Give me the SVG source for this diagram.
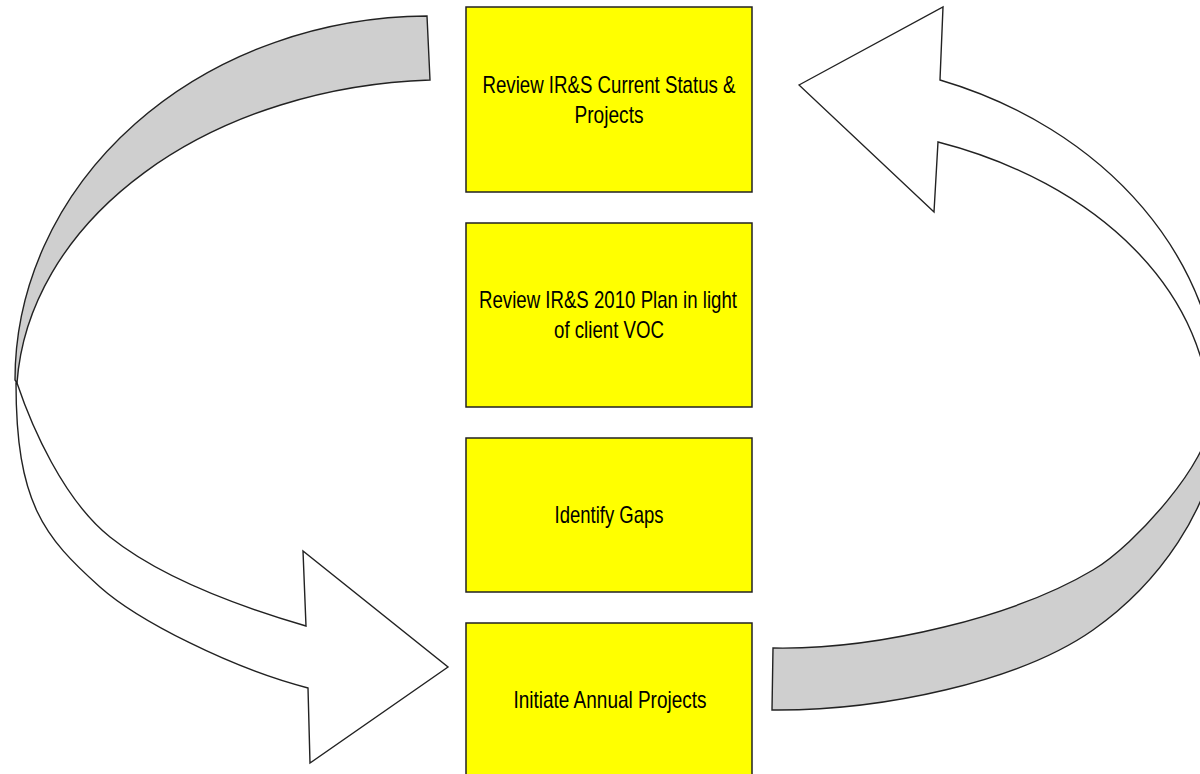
<svg xmlns="http://www.w3.org/2000/svg" width="1200" height="774" viewBox="0 0 1200 774">
<style>
.box{fill:#ffff00;stroke:#222;stroke-width:1.5}
.lbl{font-family:"Liberation Sans",Arial,sans-serif;font-size:24px;fill:#000;text-anchor:middle}
.back{fill:#cfcfcf;stroke:#222;stroke-width:1.4;stroke-linejoin:miter}
.front{fill:#ffffff;stroke:#222;stroke-width:1.4;stroke-linejoin:miter}
</style>
<rect x="0" y="0" width="1200" height="774" fill="#ffffff"/>
<g id="connectors">
  <g id="left-arrow">
    <path class="back" d="M427,16 A415,364 0 0 0 15,380 L17,383 A433,320 0 0 1 430,80 Z"/>
    <path class="front" d="M16,383 C16,503 44,537 100,587 C137.3,620.3 230.6,668 308,688 L310,763 L448,667 L303,551 L306,626 C238.8,606.4 160.8,577.6 110,537 C63.1,499.5 31.4,425.8 17,383 Z"/>
  </g>
  <g id="right-arrow">
    <path class="back" d="M1220,410 C1220,510 1150.3,589.8 1093,630 C1019.3,681.7 882,711 772,710 L773,648 C880,650 1015.7,616.1 1093,570 C1136,544.4 1210,460 1210,420 Z"/>
    <path class="front" d="M799,85 L943,7 L940,80 A420,350 0 0 1 1220,410 L1210,420 A410,295 0 0 0 938,142 L934,212 Z"/>
  </g>
</g>
<g id="node1">
  <rect class="box" x="466" y="7" width="286" height="185"/>
  <text class="lbl" x="609" y="93" textLength="253" lengthAdjust="spacingAndGlyphs">Review IR&amp;S Current Status &amp;</text>
  <text class="lbl" x="609" y="123" textLength="69" lengthAdjust="spacingAndGlyphs">Projects</text>
</g>
<g id="node2">
  <rect class="box" x="466" y="223" width="286" height="184"/>
  <text class="lbl" x="608" y="308" textLength="258" lengthAdjust="spacingAndGlyphs">Review IR&amp;S 2010 Plan in light</text>
  <text class="lbl" x="609" y="338" textLength="110" lengthAdjust="spacingAndGlyphs">of client VOC</text>
</g>
<g id="node3">
  <rect class="box" x="466" y="438" width="286" height="154"/>
  <text class="lbl" x="609" y="523" textLength="109" lengthAdjust="spacingAndGlyphs">Identify Gaps</text>
</g>
<g id="node4">
  <rect class="box" x="466" y="623" width="286" height="165"/>
  <text class="lbl" x="610" y="708" textLength="193" lengthAdjust="spacingAndGlyphs">Initiate Annual Projects</text>
</g>
</svg>
